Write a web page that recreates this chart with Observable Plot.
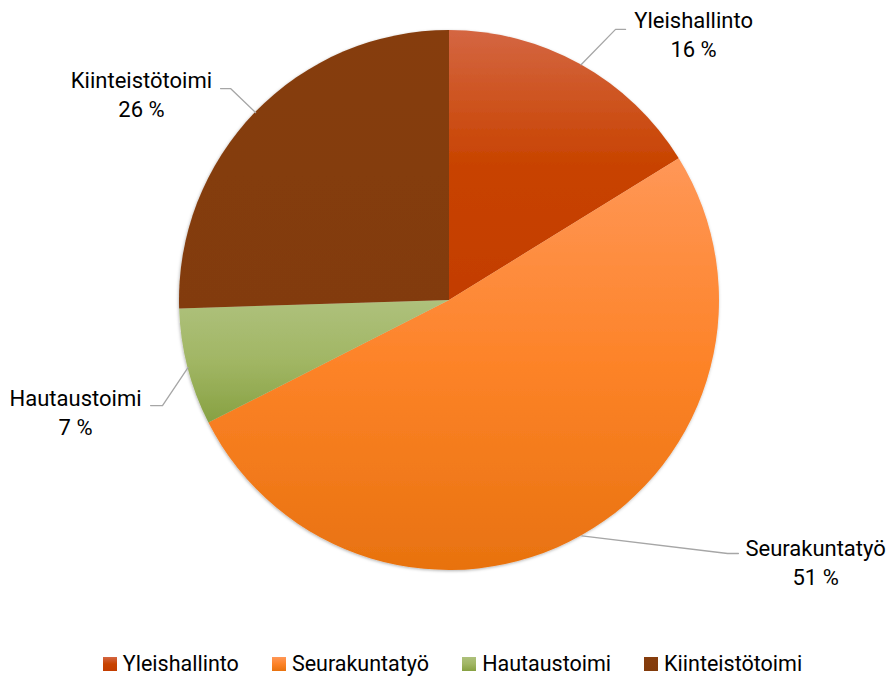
<!DOCTYPE html>
<html><head><meta charset="utf-8">
<script src="https://cdn.jsdelivr.net/npm/d3@7"></script>
<script src="https://cdn.jsdelivr.net/npm/@observablehq/plot@0.6"></script>
<style>
body{margin:0;background:#fff;font-family:Roboto,sans-serif;}
#wrap{position:relative;width:890px;height:678px;overflow:hidden}
#legend{position:absolute;left:0;top:651px;width:890px;height:26px;line-height:26px;display:flex;justify-content:center;align-items:center;font-size:21.5px;color:#000;padding-left:15px;box-sizing:border-box;white-space:nowrap}
.item{display:flex;align-items:center;margin:0 16.5px}
.sw{width:14px;height:14px;margin-right:6px;display:inline-block}
</style></head><body><div id="wrap"></div>
<script>
// ---- data ----
const categories = ["Yleishallinto", "Seurakuntatyö", "Hautaustoimi", "Kiinteistötoimi"];
const values = [16.2, 51.3, 7.0, 25.5];
const percentLabels = ["16 %", "51 %", "7 %", "26 %"];

// ---- styles ----
const colorTop = ["#d46642", "#ff9757", "#aec17c", "#863d0d"];
const colorMid = ["#c84300", "#fd8328", "#a1b664", "#843c0c"];
const colorBottom = ["#c33d00", "#e8720f", "#87a142", "#823b0b"];

// ---- layout (pie units: centre 0, radius 1) ----
const CX = 449, CY = 300, R = 270, W = 890, H = 630;
const labelPos = {
  "Yleishallinto":   {lx: 0.904, ly: 0.989, ex: 0.615, ey: 1.004, tx: 0.652},
  "Seurakuntatyö":   {lx: 1.356, ly: -0.965, ex: 1.030, ey: -0.937, tx: 1.070},
  "Hautaustoimi":    {lx: -1.385, ly: -0.409, ex: -1.063, ey: -0.389, tx: -1.107},
  "Kiinteistötoimi": {lx: -1.141, ly: 0.766, ex: -0.811, ey: 0.785, tx: -0.848}
};

const arcs = d3.pie().sort(null).value(d => d)(values);
const slices = arcs.map((a, i) => ({
  name: categories[i], pct: percentLabels[i],
  start: a.startAngle, end: a.endAngle, mid: (a.startAngle + a.endAngle) / 2
}));

const labels = slices.map(s => ({name: s.name, text: s.name + "\n" + s.pct, x: labelPos[s.name].lx, y: labelPos[s.name].ly}));
const leaders = slices.flatMap(s => {
  const p = labelPos[s.name];
  return [
    {name: s.name, x: Math.sin(s.mid), y: Math.cos(s.mid)},
    {name: s.name, x: p.ex, y: p.ey},
    {name: s.name, x: p.tx, y: p.ey}
  ];
});

function pieMark(index, scales) {
  const g = d3.create("svg:g");
  const defs = g.append("defs");
  slices.forEach((s, i) => {
    const lg = defs.append("linearGradient").attr("id", "grad" + i)
      .attr("x1", 0).attr("y1", 0).attr("x2", 0).attr("y2", 1);
    lg.append("stop").attr("offset", "0%").attr("stop-color", colorTop[i]);
    lg.append("stop").attr("offset", "50%").attr("stop-color", colorMid[i]);
    lg.append("stop").attr("offset", "100%").attr("stop-color", colorBottom[i]);
  });
  const f = defs.append("filter").attr("id", "shadow").attr("x", "-10%").attr("y", "-10%").attr("width", "120%").attr("height", "120%");
  f.append("feDropShadow").attr("dx", -0.5).attr("dy", 1).attr("stdDeviation", 1.8)
    .attr("flood-color", "#000").attr("flood-opacity", 0.3);
  const cx = scales.x(0), cy = scales.y(0), r = scales.x(1) - scales.x(0);
  const arcGen = d3.arc().innerRadius(0).outerRadius(r)
    .startAngle(d => d.start).endAngle(d => d.end);
  g.append("g").attr("transform", `translate(${cx},${cy})`).attr("filter", "url(#shadow)")
    .selectAll("path").data(slices).join("path")
    .attr("d", arcGen).attr("fill", (d, i) => `url(#grad${i})`);
  return g.node();
}

const plot = Plot.plot({
  width: W, height: H,
  margin: 0,
  x: {domain: [-CX / R, (W - CX) / R], axis: null},
  y: {domain: [-(H - CY) / R, CY / R], axis: null},
  style: {background: "transparent", fontFamily: "Roboto, sans-serif"},
  marks: [
    pieMark,
    Plot.line(leaders, {x: "x", y: "y", z: "name", stroke: "#a6a6a6", strokeWidth: 1.3}),
    Plot.text(labels, {x: "x", y: "y", text: "text", fontSize: 22, lineHeight: 1.32, fill: "#000"})
  ]
});

const wrap = document.getElementById("wrap");
wrap.appendChild(plot);
const legend = document.createElement("div");
legend.id = "legend";
categories.forEach((c, i) => {
  const it = document.createElement("div");
  it.className = "item";
  const sw = document.createElement("span");
  sw.className = "sw";
  sw.style.background = `linear-gradient(${colorTop[i]}, ${colorMid[i]}, ${colorBottom[i]})`;
  it.appendChild(sw);
  it.appendChild(document.createTextNode(c));
  legend.appendChild(it);
});
wrap.appendChild(legend);
</script>
</body></html>
